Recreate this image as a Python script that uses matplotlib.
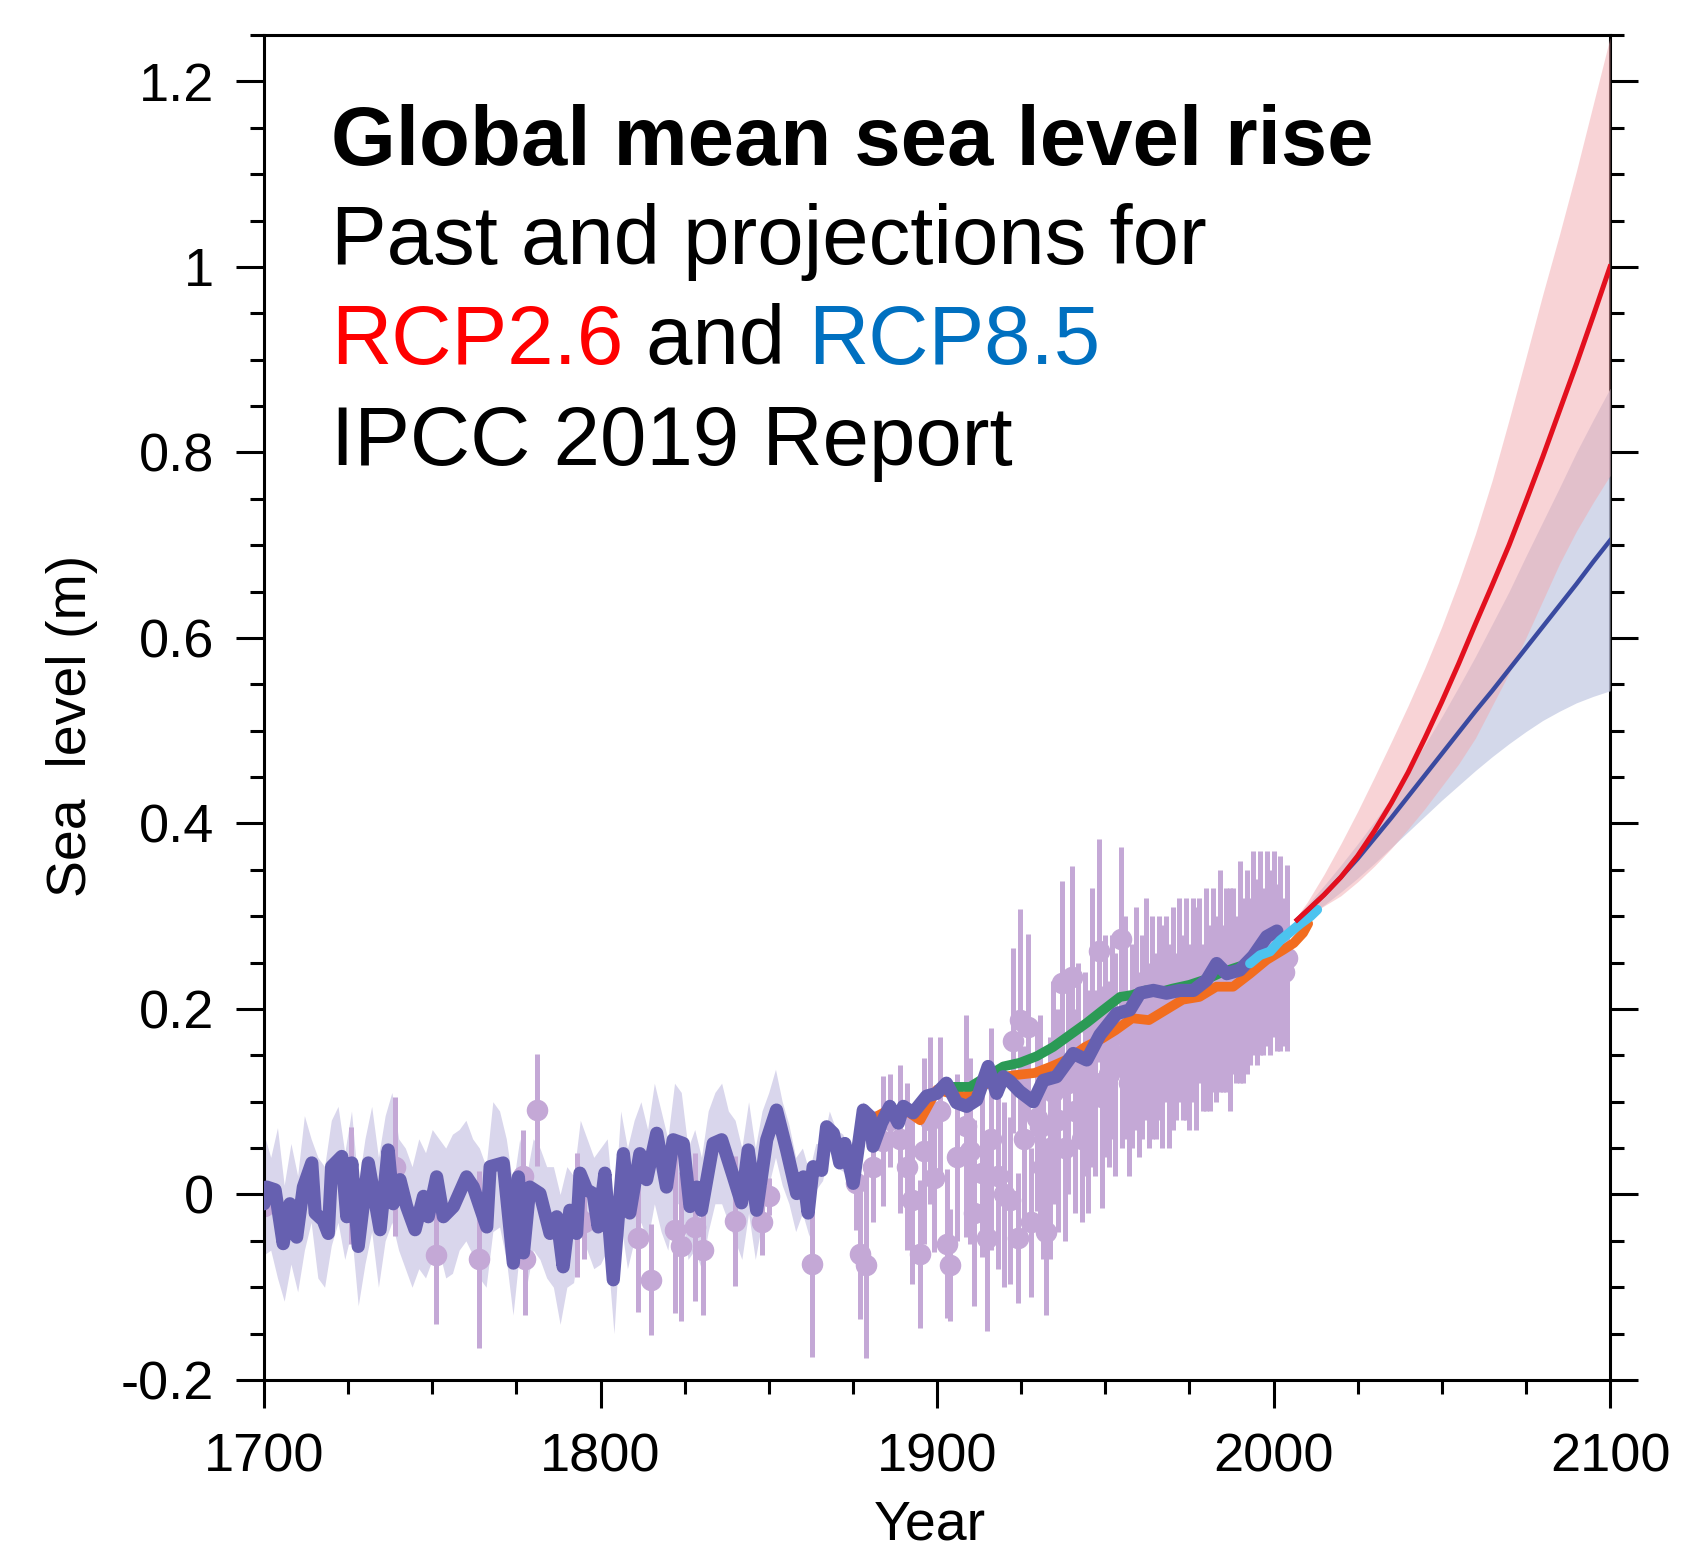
import numpy as np
import matplotlib
matplotlib.use("Agg")
import matplotlib.pyplot as plt
from matplotlib.ticker import MultipleLocator

plt.rcParams['font.family'] = ['Liberation Sans', 'DejaVu Sans']

# ---------------- data ----------------
# proxy reconstruction (purple thick line)
recon_year = [1700.0, 1700.8, 1703.3, 1705.7, 1707.7, 1709.7, 1711.7, 1714.2, 1715.2, 1717.6, 1719.1,
              1720.1, 1723.1, 1724.6, 1726.1, 1728.0, 1731.0, 1734.5, 1736.9, 1738.4, 1740.4,
              1742.4, 1744.9, 1747.4, 1748.8, 1751.3, 1753.3, 1756.3, 1760.2, 1762.2, 1766.2,
              1767.2, 1771.1, 1774.1, 1775.6, 1777.1, 1779.0, 1782.0, 1785.0, 1787.0, 1788.9,
              1790.9, 1792.9, 1793.9, 1795.9, 1797.8, 1799.3, 1801.3, 1803.8, 1806.8, 1808.7,
              1811.7, 1813.7, 1816.7, 1819.6, 1821.6, 1824.6, 1826.6, 1828.6, 1830.0, 1833.5,
              1836.0, 1839.5, 1841.9, 1843.9, 1846.4, 1849.4, 1852.3, 1855.3, 1858.3, 1860.3,
              1861.7, 1863.2, 1865.7, 1867.2, 1869.2, 1871.1, 1872.6, 1875.1, 1878.1, 1880.1,
              1881.0, 1883.5, 1886.0, 1888.5, 1890.0, 1892.9, 1896.9, 1899.9, 1902.8, 1905.8,
              1908.8, 1911.8, 1915.2, 1917.7, 1919.7, 1921.7, 1924.6, 1928.6, 1931.6, 1935.5,
              1940.5, 1944.5, 1948.4, 1953.4, 1957.3, 1960.3, 1964.3, 1968.2, 1972.2, 1976.2,
              1980.1, 1983.1, 1986.1, 1990.0, 1994.0, 1998.0, 2001.0]
recon_val = [-0.010, 0.008, 0.005, -0.053, -0.010, -0.046, 0.008, 0.034, -0.020, -0.028, -0.042,
             0.030, 0.041, -0.024, 0.034, -0.056, 0.034, -0.038, 0.048, -0.010, 0.016,
             -0.013, -0.038, -0.002, -0.024, 0.019, -0.024, -0.013, 0.019, 0.008, -0.035,
             0.030, 0.034, -0.074, 0.019, -0.063, 0.008, 0.001, -0.042, -0.024, -0.078,
             -0.017, -0.042, 0.023, 0.005, 0.001, -0.035, 0.023, -0.092, 0.044, -0.020,
             0.044, 0.016, 0.066, 0.008, 0.059, 0.055, -0.013, 0.008, -0.017, 0.055,
             0.059, 0.019, -0.009, 0.048, -0.017, 0.059, 0.091, 0.048, 0.001, 0.019,
             -0.020, 0.030, 0.026, 0.073, 0.066, 0.034, 0.055, 0.012, 0.091, 0.084,
             0.052, 0.077, 0.095, 0.077, 0.095, 0.088, 0.106, 0.109, 0.120, 0.099,
             0.095, 0.102, 0.138, 0.109, 0.127, 0.122, 0.111, 0.100, 0.123, 0.127,
             0.152, 0.145, 0.172, 0.195, 0.199, 0.217, 0.220, 0.217, 0.220, 0.220,
             0.231, 0.249, 0.238, 0.242, 0.257, 0.278, 0.284]

# uncertainty band of reconstruction
band_year = [1700, 1702, 1704, 1706, 1708, 1710, 1712, 1714, 1716, 1718, 1720, 1722, 1724, 1726,
             1728, 1730, 1732, 1734, 1736, 1738, 1740, 1742, 1744, 1746, 1748, 1750, 1752, 1754,
             1756, 1758, 1760, 1762, 1764, 1766, 1768, 1770, 1772, 1774, 1776, 1778, 1780, 1782,
             1784, 1786, 1788, 1790, 1792, 1794, 1796, 1798, 1800, 1802, 1804, 1806, 1808, 1810,
             1812, 1814, 1816, 1818, 1820, 1822, 1824, 1826, 1828, 1830, 1832, 1834, 1836, 1838,
             1840, 1842, 1844, 1846, 1848, 1850, 1852, 1854, 1856, 1858, 1860, 1862, 1864, 1866,
             1868, 1870, 1872, 1874, 1876, 1878, 1880]
band_hi = [0.065, 0.040, 0.072, 0.010, 0.055, 0.020, 0.085, 0.060, 0.040, 0.030, 0.080, 0.095, 0.045, 0.090,
           0.010, 0.060, 0.095, 0.040, 0.085, 0.110, 0.060, 0.050, 0.030, 0.060, 0.045, 0.070, 0.060, 0.050,
           0.065, 0.070, 0.080, 0.060, 0.050, 0.030, 0.100, 0.090, 0.060, 0.010, 0.060, 0.020, 0.060, 0.050,
           0.030, 0.030, 0.000, 0.030, 0.020, 0.080, 0.060, 0.040, 0.050, 0.060, -0.020, 0.090, 0.050, 0.080,
           0.100, 0.070, 0.120, 0.090, 0.060, 0.120, 0.110, 0.050, 0.070, 0.040, 0.090, 0.110, 0.120, 0.090,
           0.080, 0.050, 0.100, 0.050, 0.090, 0.110, 0.135, 0.100, 0.075, 0.040, 0.050, 0.025, 0.055, 0.055,
           0.090, 0.070, 0.065, 0.045, 0.055, 0.100, 0.092]
band_lo = [-0.065, -0.060, -0.090, -0.115, -0.075, -0.105, -0.060, -0.030, -0.090, -0.100, -0.055, -0.030, -0.070, -0.040,
           -0.120, -0.075, -0.040, -0.100, -0.050, -0.030, -0.060, -0.080, -0.100, -0.080, -0.090, -0.070, -0.060, -0.090,
           -0.085, -0.060, -0.050, -0.065, -0.090, -0.100, -0.040, -0.035, -0.070, -0.130, -0.060, -0.100, -0.060, -0.070,
           -0.090, -0.100, -0.140, -0.100, -0.095, -0.040, -0.060, -0.080, -0.075, -0.060, -0.150, -0.030, -0.080, -0.050,
           -0.030, -0.050, -0.010, -0.040, -0.060, -0.010, -0.010, -0.070, -0.060, -0.080, -0.040, -0.010, -0.010, -0.030,
           -0.050, -0.070, -0.020, -0.070, -0.030, 0.010, 0.040, 0.010, -0.010, -0.040, -0.020, -0.045, 0.005, 0.015,
           0.050, 0.030, 0.025, 0.015, 0.025, 0.080, 0.076]

# tide-gauge / proxy points with error bars
pt_year = [1700, 1726, 1739, 1751, 1764, 1777, 1777.5, 1781, 1793, 1795, 1811, 1815, 1822, 1824, 1828,
           1830.5, 1840, 1848, 1850, 1863, 1876, 1877, 1879, 1881, 1884, 1886, 1889, 1891, 1892.5, 1895,
           1896, 1898, 1899, 1901, 1903, 1904, 1906, 1908.7, 1909.7, 1911, 1913.5, 1915, 1916, 1918,
           1920, 1921.6, 1922.5, 1924, 1924.8, 1926, 1927, 1928, 1929.7, 1930.6, 1931.5, 1932.5, 1933.5,
           1934.5, 1936, 1937, 1938, 1939, 1940, 1941, 1942, 1943, 1944, 1945, 1946, 1947, 1948, 1949,
           1950, 1951, 1952, 1953, 1954.8, 1955, 1956, 1957, 1958, 1959, 1960, 1961, 1962, 1963, 1964,
           1965, 1966, 1967, 1968, 1969, 1970, 1971, 1972, 1973, 1974, 1975, 1976, 1977, 1978, 1979,
           1980, 1981, 1982, 1983, 1984, 1985, 1986, 1987, 1988, 1989, 1990, 1991, 1992, 1993, 1994,
           1995, 1996, 1997, 1998, 1999, 2000, 2001, 2002, 2003, 2004]
pt_val = [-0.012, 0.010, 0.030, -0.065, -0.070, 0.020, -0.070, 0.091, -0.022, -0.030, -0.047, -0.092, -0.038, -0.056, -0.035,
          -0.060, -0.029, -0.030, -0.002, -0.075, 0.012, -0.064, -0.076, 0.030, 0.058, 0.080, 0.060, 0.030, -0.006, -0.064,
          0.047, 0.080, 0.018, 0.090, -0.053, -0.076, 0.040, 0.074, 0.047, -0.020, 0.023, -0.047, 0.060, 0.020,
          0.000, -0.006, 0.166, -0.047, 0.188, 0.060, 0.181, -0.030, 0.082, 0.073, 0.030, -0.040, 0.050,
          0.110, 0.080, 0.228, 0.050, 0.120, 0.234, 0.090, 0.150, 0.060, 0.130, 0.100, 0.180, 0.120, 0.263, 0.105,
          0.160, 0.130, 0.170, 0.140, 0.275, 0.150, 0.180, 0.120, 0.160, 0.190, 0.140, 0.170, 0.200, 0.150, 0.180,
          0.160, 0.190, 0.170, 0.200, 0.160, 0.190, 0.170, 0.210, 0.180, 0.200, 0.170, 0.210, 0.190, 0.220, 0.180,
          0.210, 0.190, 0.220, 0.200, 0.230, 0.200, 0.220, 0.210, 0.230, 0.210, 0.240, 0.220, 0.240, 0.230, 0.260,
          0.240, 0.260, 0.240, 0.265, 0.250, 0.270, 0.245, 0.260, 0.240, 0.255]
pt_err = [0.005, 0.063, 0.075, 0.075, 0.095, 0.050, 0.060, 0.060, 0.067, 0.040, 0.080, 0.060, 0.090, 0.080, 0.080,
          0.070, 0.070, 0.035, 0.020, 0.100, 0.050, 0.070, 0.100, 0.060, 0.070, 0.050, 0.080, 0.090, 0.090, 0.080,
          0.100, 0.090, 0.080, 0.080, 0.080, 0.060, 0.090, 0.120, 0.100, 0.100, 0.090, 0.100, 0.120, 0.100,
          0.100, 0.090, 0.100, 0.070, 0.120, 0.100, 0.100, 0.080, 0.100, 0.120, 0.100, 0.090, 0.120,
          0.120, 0.120, 0.110, 0.100, 0.120, 0.120, 0.110, 0.100, 0.090, 0.110, 0.120, 0.150, 0.100, 0.120, 0.120,
          0.120, 0.100, 0.110, 0.120, 0.100, 0.100, 0.120, 0.100, 0.110, 0.120, 0.100, 0.110, 0.120, 0.100, 0.120,
          0.100, 0.110, 0.120, 0.100, 0.110, 0.120, 0.090, 0.110, 0.100, 0.120, 0.100, 0.110, 0.120, 0.100, 0.090,
          0.120, 0.100, 0.110, 0.100, 0.120, 0.090, 0.110, 0.120, 0.100, 0.090, 0.120, 0.100, 0.110, 0.090, 0.110,
          0.100, 0.110, 0.090, 0.105, 0.100, 0.100, 0.090, 0.105, 0.080, 0.100]

# tide-gauge reconstructions
orange_year = [1882, 1885, 1888, 1891, 1895, 1898, 1900, 1903, 1905, 1908, 1910, 1913, 1915, 1918, 1920, 1924,
               1929, 1934, 1939, 1944, 1949, 1953, 1958, 1963, 1968, 1973, 1978, 1983, 1988, 1993, 1998,
               2003, 2006, 2008.8, 2010.3]
orange_val = [0.084, 0.090, 0.085, 0.090, 0.080, 0.100, 0.113, 0.110, 0.113, 0.104, 0.109, 0.115, 0.120, 0.118, 0.127, 0.129,
              0.131, 0.138, 0.146, 0.159, 0.168, 0.177, 0.190, 0.188, 0.199, 0.210, 0.213, 0.224, 0.224, 0.238, 0.253,
              0.264, 0.271, 0.282, 0.292]
green_year = [1904.8, 1909.8, 1914.7, 1919.7, 1924.6, 1929.6, 1934.5, 1939.5, 1944.5, 1949.4, 1954.4,
              1958, 1962, 1966, 1970, 1975, 1980, 1985, 1990]
green_val = [0.116, 0.116, 0.127, 0.138, 0.142, 0.149, 0.159, 0.172, 0.185, 0.199, 0.213,
             0.215, 0.220, 0.218, 0.222, 0.226, 0.232, 0.240, 0.246]
cyan_year = [1993, 1996, 1999, 2002, 2005, 2008, 2011, 2013]
cyan_val = [0.249, 0.258, 0.262, 0.274, 0.283, 0.292, 0.300, 0.307]

# projections
proj_year = [2007, 2010, 2015, 2020, 2025, 2030, 2035, 2040, 2045, 2050, 2055, 2060, 2065, 2070,
             2075, 2080, 2085, 2090, 2095, 2100]
red_mid = [0.296, 0.306, 0.323, 0.342, 0.365, 0.392, 0.422, 0.455, 0.492, 0.531, 0.572, 0.615, 0.657,
           0.700, 0.747, 0.795, 0.845, 0.895, 0.947, 1.000]
red_hi = [0.300, 0.315, 0.345, 0.378, 0.413, 0.450, 0.488, 0.527, 0.568, 0.612, 0.660, 0.712, 0.770,
          0.835, 0.902, 0.970, 1.035, 1.103, 1.175, 1.247]
red_lo = [0.294, 0.300, 0.311, 0.322, 0.337, 0.354, 0.373, 0.394, 0.416, 0.440, 0.464, 0.492, 0.527,
          0.562, 0.600, 0.640, 0.680, 0.715, 0.746, 0.775]
blue_mid = [0.296, 0.306, 0.323, 0.342, 0.362, 0.384, 0.406, 0.429, 0.452, 0.475, 0.498, 0.521, 0.543,
            0.566, 0.589, 0.612, 0.635, 0.658, 0.682, 0.705]
blue_hi = [0.300, 0.312, 0.333, 0.355, 0.378, 0.402, 0.428, 0.455, 0.485, 0.515, 0.547, 0.580, 0.615,
           0.650, 0.688, 0.725, 0.762, 0.800, 0.835, 0.869]
blue_lo = [0.294, 0.300, 0.312, 0.326, 0.341, 0.357, 0.374, 0.391, 0.408, 0.425, 0.441, 0.457, 0.472,
           0.486, 0.499, 0.511, 0.521, 0.530, 0.537, 0.543]

title_lines = ["Global mean sea level rise", "Past and projections for",
               ["RCP2.6", " and ", "RCP8.5"], "IPCC 2019 Report"]
xticks = [1700, 1800, 1900, 2000, 2100]
yticks = [-0.2, 0.0, 0.2, 0.4, 0.6, 0.8, 1.0, 1.2]
ytick_labels = ["-0.2", "0", "0.2", "0.4", "0.6", "0.8", "1", "1.2"]

# ---------------- figure ----------------
W, H = 1702, 1566
fig = plt.figure(figsize=(W / 100, H / 100), dpi=100)
ax = fig.add_axes([264 / W, 1 - 1380 / H, (1610 - 264) / W, (1380 - 35) / H])
ax.set_xlim(1700, 2100)
ax.set_ylim(-0.2, 1.25)

# reconstruction band
ax.fill_between(band_year, band_lo, band_hi, color='#d9d6ec', lw=0, zorder=1)

# error bar points
ax.errorbar(pt_year, pt_val, yerr=pt_err, fmt='o', color='#c4a8d6', ecolor='#c4a8d6',
            elinewidth=3.6, markersize=14.5, capsize=0, zorder=2)

# projection bands
ax.fill_between(proj_year, blue_lo, blue_hi, color='#c5cbe4', alpha=0.75, lw=0, zorder=3)
ax.fill_between(proj_year, red_lo, red_hi, color='#f2a9ae', alpha=0.5, lw=0, zorder=3.1)

# observational lines
ax.plot(orange_year, orange_val, color='#f26d1f', lw=7, solid_capstyle='round',
        solid_joinstyle='round', zorder=4)
ax.plot(green_year, green_val, color='#2b9a55', lw=7, solid_capstyle='round',
        solid_joinstyle='round', zorder=4.1)
ax.plot(recon_year, recon_val, color='#6660b0', lw=9.5, solid_joinstyle='round',
        solid_capstyle='round', zorder=5)
ax.plot(cyan_year, cyan_val, color='#4cc3ef', lw=7, solid_capstyle='round',
        solid_joinstyle='round', zorder=6)

# projection lines
ax.plot(proj_year, blue_mid, color='#3a4aa0', lw=3.2, zorder=7)
ax.plot(proj_year, red_mid, color='#e3101e', lw=3.6, zorder=8)

# axes styling
for s in ax.spines.values():
    s.set_linewidth(2.2)
ax.set_xticks(xticks)
ax.set_xticklabels([str(x) for x in xticks])
ax.xaxis.set_minor_locator(MultipleLocator(25))
ax.set_yticks(yticks)
ax.set_yticklabels(ytick_labels)
ax.yaxis.set_minor_locator(MultipleLocator(0.05))
ax.tick_params(which='major', direction='out', length=20, width=2.2, labelsize=39)
ax.tick_params(which='minor', direction='out', length=10, width=2.2)
ax.tick_params(axis='y', which='both', left=True, right=True, pad=16)
ax.tick_params(axis='x', which='both', top=False, bottom=True, pad=18)

fig.text(72 / W, 1 - 726 / H, "Sea  level (m)", rotation=90, fontsize=40,
         ha='center', va='center')
fig.text(930 / W, 1 - 1525 / H, "Year", fontsize=40, ha='center', va='center')

# title block
x0 = 331 / W
fs = 60
fig.text(x0, 1 - 165 / H, title_lines[0], fontsize=fs, fontweight='bold', va='baseline')
fig.text(x0, 1 - 264 / H, title_lines[1], fontsize=fs, va='baseline')
fig.text(x0, 1 - 465 / H, title_lines[3], fontsize=fs, va='baseline')
renderer = fig.canvas.get_renderer()
xc = x0
for piece, col in zip(title_lines[2], ['#ff0000', 'black', '#0070c0']):
    t = fig.text(xc, 1 - 364 / H, piece, fontsize=fs, color=col, va='baseline')
    bb = t.get_window_extent(renderer=renderer)
    xc = xc + bb.width / W

fig.savefig("out.png", dpi=100)
